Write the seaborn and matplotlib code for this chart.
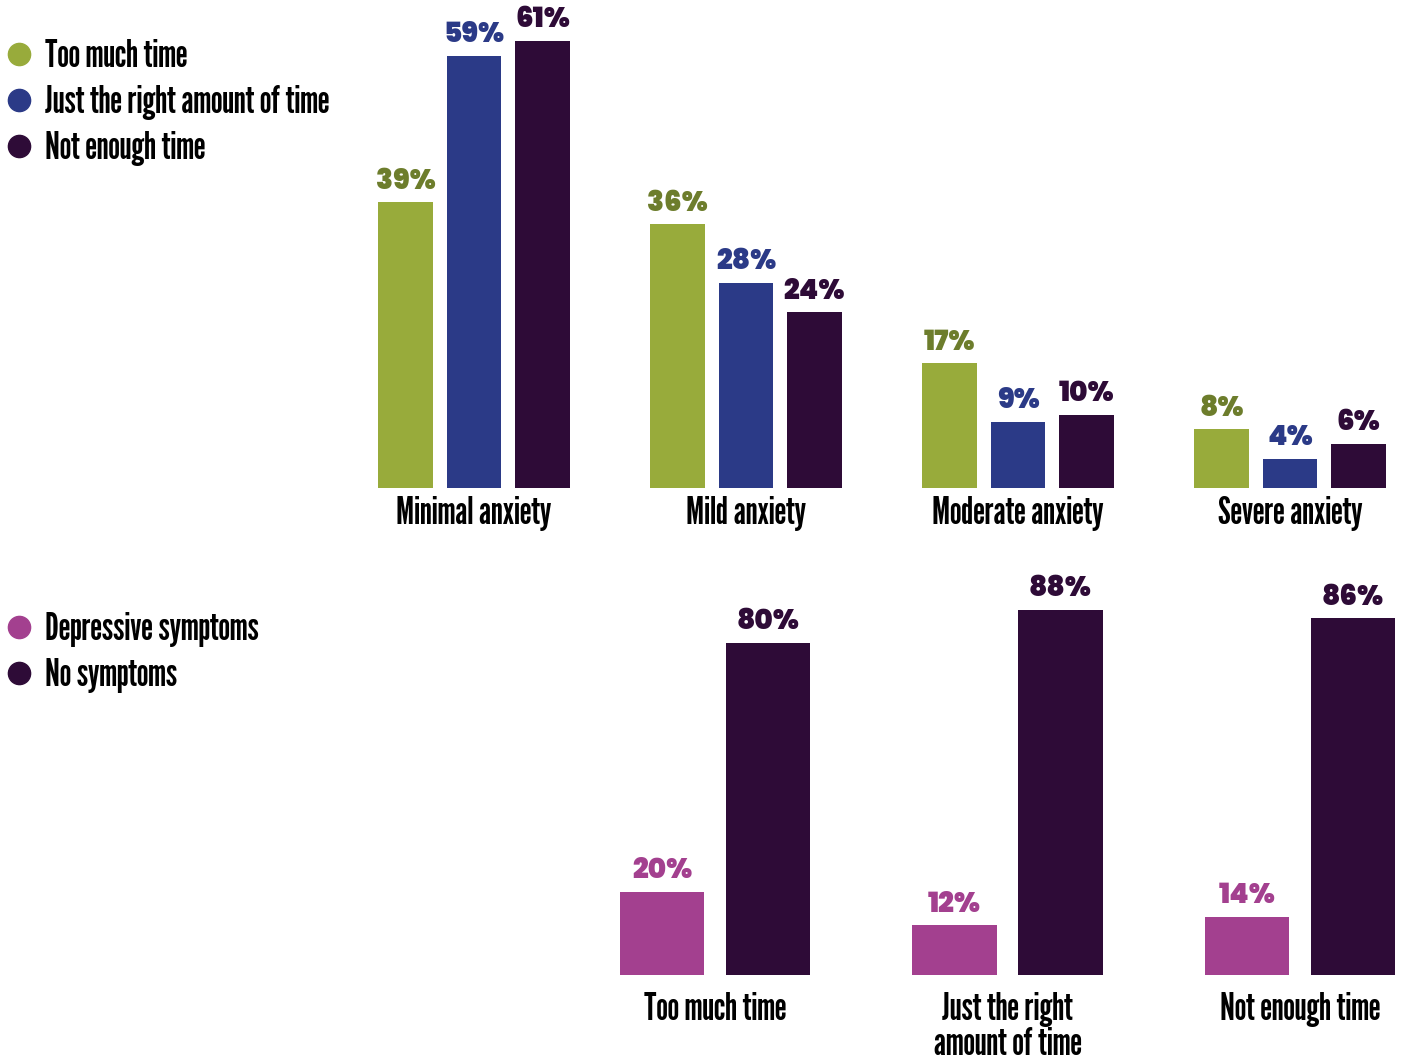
import matplotlib
matplotlib.use("Agg")
import matplotlib.pyplot as plt
from matplotlib.lines import Line2D
import seaborn as sns
import pandas as pd

# Anxiety levels by perceived amount of time
anxiety_levels = ["Minimal anxiety", "Mild anxiety", "Moderate anxiety", "Severe anxiety"]
time_groups = ["Too much time", "Just the right amount of time", "Not enough time"]
too_much = [39, 36, 17, 8]
just_right = [59, 28, 9, 4]
not_enough = [61, 24, 10, 6]

# Depressive symptoms by perceived amount of time
dep_groups = ["Too much time", "Just the right\namount of time", "Not enough time"]
dep_series = ["Depressive symptoms", "No symptoms"]
depressive = [20, 12, 14]
no_symptoms = [80, 88, 86]

GREEN, BLUE, DARK, PINK = "#98AB3B", "#2B3A87", "#2E0B37", "#A3408F"
GREEN_TXT = "#6D7D2C"

LABEL_FONT = ["League Gothic", "Fjalla One", "DejaVu Sans"]
VALUE_FONT = ["Poppins", "DejaVu Sans"]
LABEL_SIZE = 27

sns.set_theme(style="white")
plt.rcParams["font.family"] = LABEL_FONT

top_df = pd.DataFrame({
    "level": anxiety_levels * 3,
    "group": [g for g in time_groups for _ in anxiety_levels],
    "value": too_much + just_right + not_enough,
})
bot_df = pd.DataFrame({
    "group": dep_groups * 2,
    "series": [s for s in dep_series for _ in dep_groups],
    "value": depressive + no_symptoms,
})

W, H = 1403, 1061
fig = plt.figure(figsize=(W / 100, H / 100), dpi=100)
fig.patch.set_facecolor("white")

# top panel: baseline at y=488 px, 7.33 px per percent
ax1 = fig.add_axes([0, (H - 488) / H, 1, 476 / H])
sns.barplot(data=top_df, x="level", y="value", hue="group", order=anxiety_levels,
            hue_order=time_groups, palette=[GREEN, BLUE, DARK], width=0.755, gap=0.2,
            saturation=1, linewidth=0, legend=False, ax=ax1)
ax1.set_ylim(0, 476 / 7.33)
ax1.set_xlim(-474 / 272, (W - 474) / 272)
for cont, col in zip(ax1.containers, [GREEN_TXT, BLUE, DARK]):
    ax1.bar_label(cont, fmt="{:.0f}%", padding=4, color=col, fontsize=20,
                  fontweight=900, family=VALUE_FONT)

# bottom panel: baseline at y=975 px, 4.15 px per percent
ax2 = fig.add_axes([0, (H - 975) / H, 1, 415 / H])
sns.barplot(data=bot_df, x="group", y="value", hue="series", order=dep_groups,
            hue_order=dep_series, palette=[PINK, DARK], width=0.725, gap=0.2,
            saturation=1, linewidth=0, legend=False, ax=ax2)
ax2.set_ylim(0, 415 / 4.15)
ax2.set_xlim(-715 / 292.5, (W - 715) / 292.5)
for cont, col in zip(ax2.containers, [PINK, DARK]):
    ax2.bar_label(cont, fmt="{:.0f}%", padding=4, color=col, fontsize=20,
                  fontweight=900, family=VALUE_FONT)

for ax, pad in [(ax1, 6), (ax2, 12)]:
    ax.set_facecolor("none")
    ax.set_xlabel("")
    ax.set_ylabel("")
    ax.set_yticks([])
    ax.tick_params(axis="x", length=0, pad=pad, labelsize=LABEL_SIZE, colors="black")
    for lab in ax.get_xticklabels():
        lab.set_linespacing(1.0)
    sns.despine(ax=ax, left=True, bottom=True)


def circle_legend(labels, colors, top_px):
    handles = [Line2D([], [], marker="o", linestyle="", markersize=16,
                      markerfacecolor=c, markeredgecolor=c, label=l)
               for l, c in zip(labels, colors)]
    leg = fig.legend(handles=handles, loc="upper left",
                     bbox_to_anchor=(0.0, (H - top_px) / H), frameon=False,
                     handletextpad=0.2, handlelength=1.0, labelspacing=0.3,
                     borderaxespad=0, borderpad=0,
                     prop={"family": LABEL_FONT, "size": LABEL_SIZE})
    for t in leg.get_texts():
        t.set_color("black")
    return leg


circle_legend(time_groups, [GREEN, BLUE, DARK], 39)
circle_legend(dep_series, [PINK, DARK], 612)

fig.savefig("out.png", dpi=100, facecolor="white")
